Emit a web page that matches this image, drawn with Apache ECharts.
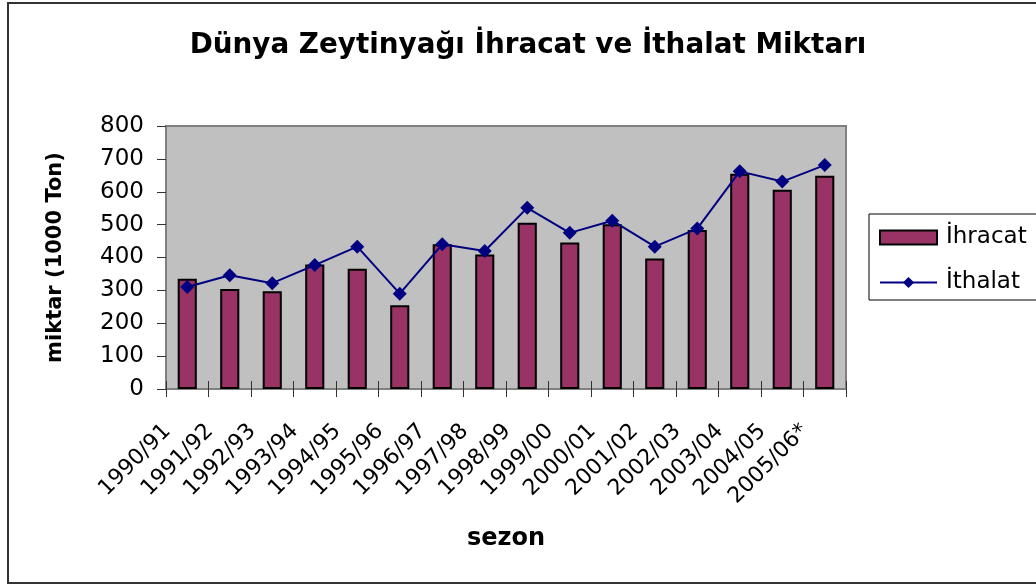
<!DOCTYPE html>
<html>
<head>
<meta charset="utf-8">
<script src="https://cdn.jsdelivr.net/npm/echarts@6/dist/echarts.min.js"></script>
<style>html,body{margin:0;padding:0;background:#fff;}#c{width:1036px;height:585px;}</style>
</head>
<body>
<div id="c"></div>
<script>
const categories = ['1990/91','1991/92','1992/93','1993/94','1994/95','1995/96','1996/97','1997/98','1998/99','1999/00','2000/01','2001/02','2002/03','2003/04','2004/05','2005/06*'];
const ihracat = [335, 304, 297, 379, 366, 255, 440, 409, 506, 446, 501, 397, 484, 655, 606, 649];
const ithalat = [310, 346, 322, 377, 433, 290, 440, 420, 551, 475, 512, 433, 488, 662, 631, 681];
const yTicks = {min: 0, max: 800, interval: 100};

const chart = echarts.init(document.getElementById('c'));
const FONT = 'DejaVu Sans, Liberation Sans, sans-serif';
chart.setOption({
  animation: false,
  textStyle: {fontFamily: FONT},
  title: {
    text: 'Dünya Zeytinyağı İhracat ve İthalat Miktarı',
    left: 523, top: 27, textAlign: 'center',
    textStyle: {fontFamily: FONT, fontSize: 27.8, fontWeight: 'bold', color: '#000'}
  },
  graphic: [{
    type: 'rect', shape: {x: 8, y: 3, width: 1040, height: 580},
    style: {fill: 'none', stroke: '#333', lineWidth: 2}, silent: true, z: -10
  }],
  legend: {
    orient: 'vertical', left: 869, top: 214,
    backgroundColor: '#fff', borderColor: '#000', borderWidth: 1,
    padding: [12, 20, 6, 10], itemGap: 22, itemWidth: 57, itemHeight: 14,
    textStyle: {fontFamily: FONT, fontSize: 23, color: '#000', padding: [0, 0, 0, 4]},
    data: [{name: 'İhracat', icon: 'rect'}, {name: 'İthalat'}]
  },
  grid: {
    left: 166, right: 190, top: 126, bottom: 196,
    show: true, backgroundColor: '#C0C0C0', borderColor: '#808080', borderWidth: 2
  },
  xAxis: [{
    type: 'category', data: categories, boundaryGap: true,
    name: 'sezon', nameLocation: 'middle', nameGap: 138,
    nameTextStyle: {fontFamily: FONT, fontSize: 24, fontWeight: 'bold', color: '#000'},
    axisLine: {lineStyle: {color: '#808080', width: 2}},
    axisTick: {show: true, interval: 0, length: 8, lineStyle: {color: '#333'}},
    axisLabel: {interval: 0, rotate: 45, margin: 19, padding: [0, 28, 0, 0], fontSize: 22, color: '#000', fontFamily: FONT}
  }, {
    type: 'category', data: categories, boundaryGap: true, position: 'bottom',
    axisLine: {show: false},
    axisTick: {show: true, inside: true, interval: 0, length: 8, lineStyle: {color: '#333'}},
    axisLabel: {show: false}
  }],
  yAxis: {
    type: 'value', min: yTicks.min, max: yTicks.max, interval: yTicks.interval,
    name: 'miktar (1000 Ton)', nameLocation: 'middle', nameGap: 100, nameRotate: 90,
    nameTextStyle: {fontFamily: FONT, fontSize: 21, fontWeight: 'bold', color: '#000'},
    axisLine: {show: true, lineStyle: {color: '#808080', width: 2}},
    axisTick: {show: true, length: 9, lineStyle: {color: '#333'}},
    splitLine: {show: false},
    axisLabel: {margin: 22, fontSize: 23, color: '#000', fontFamily: FONT}
  },
  series: [{
    name: 'İhracat', type: 'bar', data: ihracat, barWidth: '45%',
    itemStyle: {color: '#993366', borderColor: '#000', borderWidth: 2}
  }, {
    name: 'İthalat', type: 'line', data: ithalat,
    symbol: 'diamond', symbolSize: 14,
    lineStyle: {color: '#000080', width: 2},
    itemStyle: {color: '#000080'}
  }]
});
</script>
</body>
</html>
